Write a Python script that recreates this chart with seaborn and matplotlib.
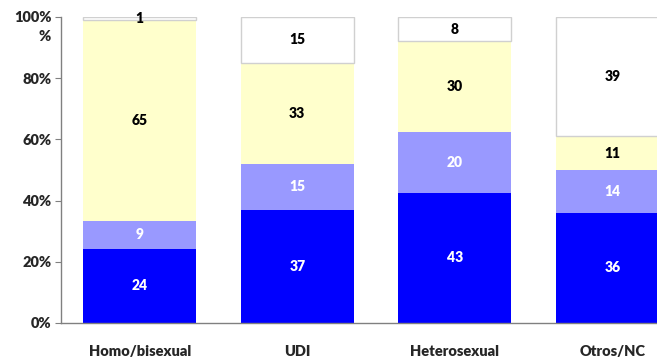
import numpy as np
import pandas as pd
import seaborn as sns
import matplotlib.pyplot as plt

# Datos
categorias = ['Homo/bisexual', 'UDI', 'Heterosexual', 'Otros/NC']
serie_1 = [24, 37, 43, 36]
serie_2 = [9, 15, 20, 14]
serie_3 = [65, 33, 30, 11]
serie_4 = [1, 15, 8, 39]
colores = ['#0000FF', '#9999FF', '#FFFFCC', '#FFFFFF']

sns.set_style('white')
plt.rcParams['font.family'] = ['Lato', 'DejaVu Sans']
plt.rcParams['font.weight'] = 'bold'

tabla = np.array([serie_1, serie_2, serie_3, serie_4], dtype=float)
porc = tabla / tabla.sum(axis=0) * 100

fig = plt.figure(figsize=(6.57, 3.58), dpi=100)
ax = fig.add_axes([61 / 657, 35 / 358, 630 / 657, 306 / 358])

base = np.zeros(len(categorias))
for i in range(4):
    blanco = i == 3
    sns.barplot(x=categorias, y=porc[i], bottom=base, color=colores[i],
                width=0.72, saturation=1, ax=ax,
                edgecolor='#D0D0D0' if blanco else 'none',
                linewidth=1.0 if blanco else 0)
    for j in range(len(categorias)):
        txt_color = 'white' if i < 2 else 'black'
        ax.text(j, base[j] + porc[i][j] / 2, str(int(tabla[i][j])),
                ha='center', va='center', color=txt_color,
                fontsize=10, fontweight='heavy')
    base = base + porc[i]

ax.set_xlim(-0.5, 3.5)
ax.set_ylim(0, 100)
ax.set_yticks([0, 20, 40, 60, 80, 100])
ax.set_yticklabels(['0%', '20%', '40%', '60%', '80%', '100%'],
                   fontsize=10.5, fontweight='heavy')
ax.set_xticks(range(4))
ax.set_xticklabels(categorias, fontsize=10.5, fontweight='heavy')
ax.set_xticks([0.5, 1.5, 2.5], minor=True)
ax.tick_params(axis='x', which='major', length=0, pad=16)
ax.tick_params(axis='x', which='minor', length=5, color='#808080', direction='out')
ax.tick_params(axis='y', length=4, color='#808080', direction='out', left=True, pad=3)
ax.set_xlabel('')
ax.set_ylabel('')
ax.text(-0.016, 0.935, '%', transform=ax.transAxes, ha='right', va='center',
        fontsize=10.5, fontweight='heavy')

sns.despine(ax=ax)
for s in ['left', 'bottom']:
    ax.spines[s].set_color('#808080')
    ax.spines[s].set_linewidth(1)

fig.savefig('out.png', dpi=100)
